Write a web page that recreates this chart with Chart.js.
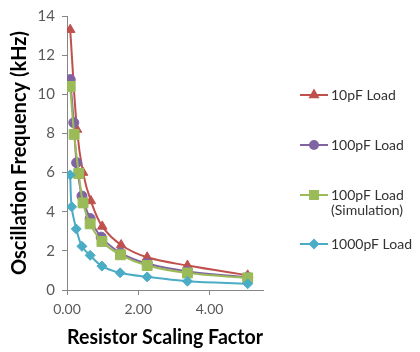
<!DOCTYPE html>
<html lang="en">
<head>
<meta charset="UTF-8">
<title>Oscillation Frequency vs Resistor Scaling Factor</title>
<script src="https://cdn.jsdelivr.net/npm/chart.js"></script>
<style>
  body { margin: 0; background: #fff; }
  .wrap { width: 420px; height: 352px; }
</style>
</head>
<body>
<div class="wrap"><canvas id="chart" width="420" height="352"></canvas></div>
<script>
// values
const seriesNames = ['10pF Load', '100pF Load', '100pF Load\n(Simulation)', '1000pF Load'];

const x10pF = [0.09, 0.28, 0.45, 0.67, 0.99, 1.52, 2.25, 3.38, 5.07];
const y10pF = [13.3, 8.2, 6.0, 4.55, 3.25, 2.3, 1.67, 1.25, 0.75];

const x100pF = [0.09, 0.19, 0.27, 0.42, 0.65, 0.96, 1.5, 2.25, 3.38, 5.07];
const y100pF = [10.75, 8.55, 6.5, 4.8, 3.65, 2.7, 1.9, 1.35, 0.95, 0.65];

const x100pFSim = [0.09, 0.2, 0.33, 0.45, 0.65, 0.98, 1.5, 2.25, 3.38, 5.07];
const y100pFSim = [10.4, 7.95, 5.95, 4.45, 3.38, 2.48, 1.8, 1.25, 0.87, 0.62];

const x1000pF = [0.09, 0.13, 0.26, 0.42, 0.65, 0.98, 1.49, 2.25, 3.38, 5.07];
const y1000pF = [5.88, 4.25, 3.12, 2.23, 1.77, 1.22, 0.88, 0.67, 0.45, 0.32];

const xTicks = [0, 2, 4];

const colors = ['#C0504D', '#8064A2', '#9BBB59', '#4BACC6'];
const styles = ['triangle', 'circle', 'rect', 'rectRot'];
const radii = [5.5, 5, 7, 5];

function pts(xs, ys) { return xs.map((x, i) => ({ x: x, y: ys[i] })); }
const allData = [pts(x10pF, y10pF), pts(x100pF, y100pF), pts(x100pFSim, y100pFSim), pts(x1000pF, y1000pF)];

const datasets = allData.map((d, i) => ({
    label: seriesNames[i],
    data: d,
    borderColor: colors[i],
    backgroundColor: colors[i],
    pointBackgroundColor: colors[i],
    pointBorderColor: colors[i],
    pointStyle: styles[i],
    pointRadius: radii[i],
    pointBorderWidth: 1,
    borderWidth: 2,
    tension: 0.35,
    order: 3 - i
}));

// legend on the right, drawn by hand so the two-line label fits
const sideLegend = {
    id: 'sideLegend',
    afterDraw(chart) {
        const ctx = chart.ctx;
        const rows = [95, 145, 195, 244];
        chart.data.datasets.forEach((ds, i) => {
            const y = rows[i];
            ctx.save();
            ctx.strokeStyle = ds.borderColor;
            ctx.lineWidth = 2;
            ctx.beginPath(); ctx.moveTo(300, y); ctx.lineTo(328, y); ctx.stroke();
            ctx.fillStyle = ds.backgroundColor;
            Chart.helpers.drawPoint(ctx, { pointStyle: ds.pointStyle, radius: ds.pointRadius * 0.8, borderWidth: 1 }, 314, y);
            ctx.fillStyle = '#333';
            ctx.font = '14px Lato';
            ctx.textBaseline = 'middle';
            ds.label.split('\n').forEach((t, k) => ctx.fillText(t, 331, y + k * 15));
            ctx.restore();
        });
    }
};

new Chart(document.getElementById('chart'), {
    type: 'line',
    data: { datasets: datasets },
    plugins: [sideLegend],
    options: {
        responsive: false,
        animation: false,
        layout: { padding: { top: 10, right: 157, left: 0, bottom: 0 } },
        plugins: { legend: { display: false }, tooltip: { enabled: false } },
        scales: {
            x: {
                type: 'linear',
                min: 0, max: 5.5,
                afterBuildTicks: s => { s.ticks = xTicks.map(v => ({ value: v })); },
                afterFit: s => { s.height = 62; },
                grid: { drawOnChartArea: false, drawTicks: true, tickLength: 5, color: '#868686' },
                border: { color: '#868686' },
                ticks: { font: { family: 'Lato', size: 14 }, color: '#595959', padding: 6,
                         callback: v => v.toFixed(2) },
                title: { display: true, text: 'Resistor Scaling Factor', color: '#000',
                         font: { family: 'Lato', size: 20, weight: 'bold' }, padding: { top: 0, bottom: 2 } }
            },
            y: {
                min: 0, max: 14,
                ticks: { stepSize: 2, font: { family: 'Lato', size: 15 }, color: '#595959', padding: 7 },
                afterFit: s => { s.width = 67; },
                grid: { drawOnChartArea: false, drawTicks: true, tickLength: 5, color: '#868686' },
                border: { color: '#868686' },
                title: { display: true, text: 'Oscillation Frequency (kHz)', color: '#000',
                         font: { family: 'Lato', size: 20, weight: 'bold' }, padding: { top: 8, bottom: 0 } }
            }
        }
    }
});
</script>
</body>
</html>
